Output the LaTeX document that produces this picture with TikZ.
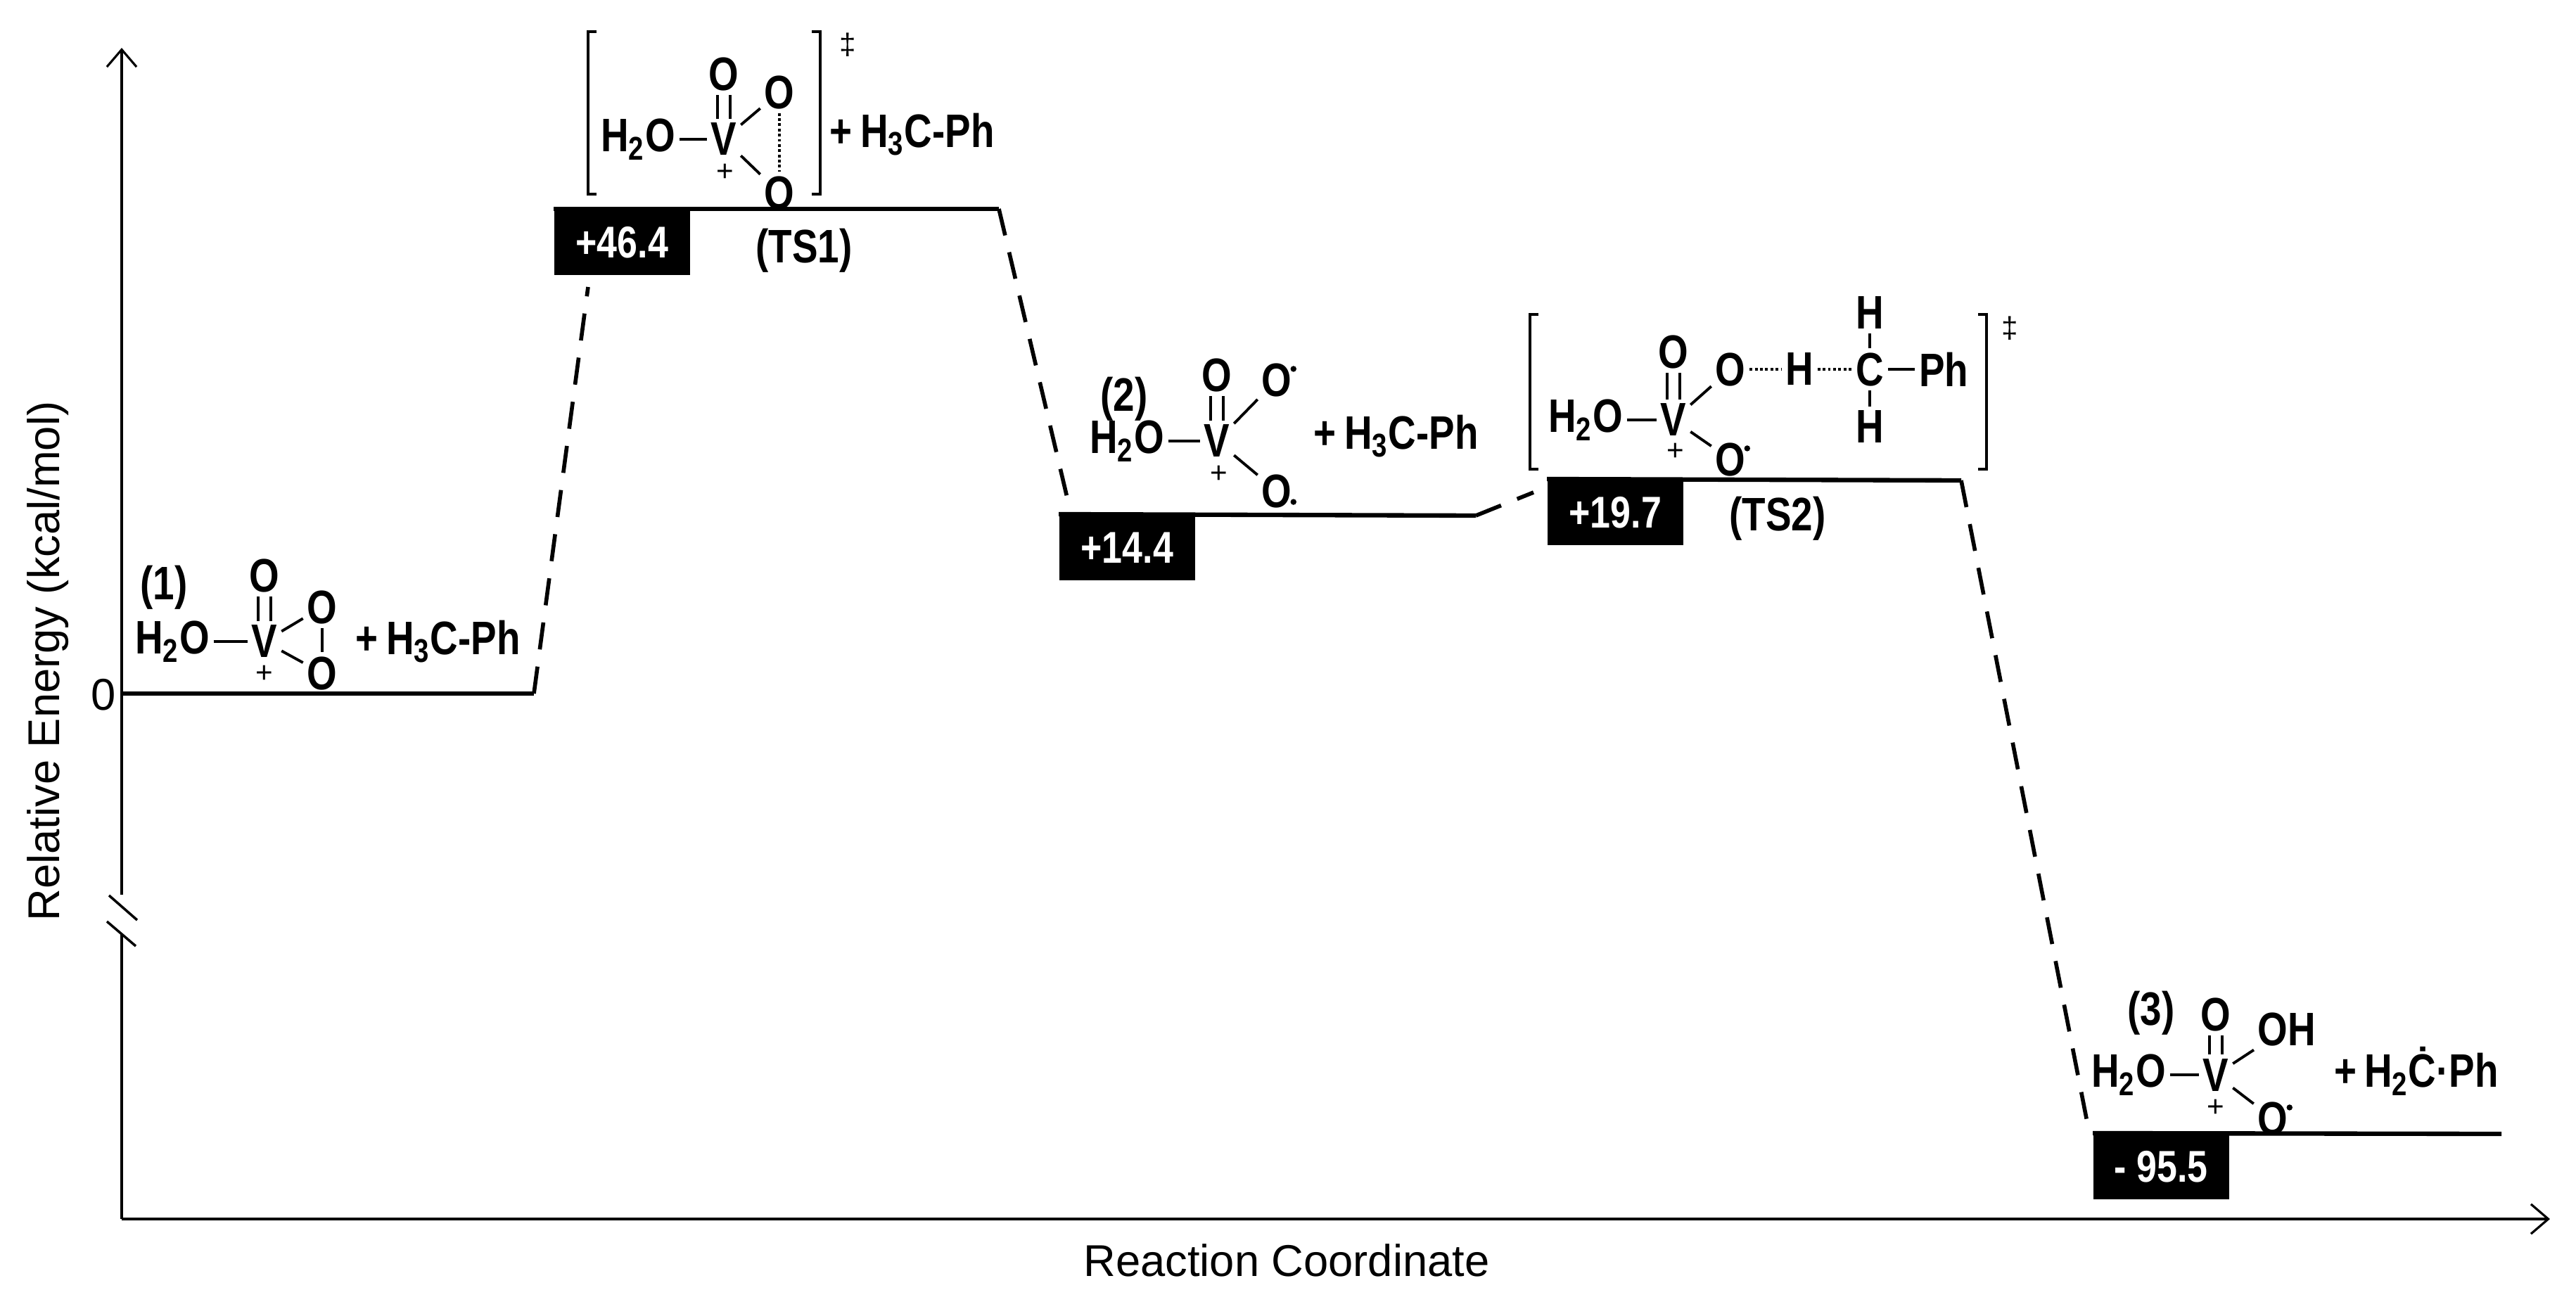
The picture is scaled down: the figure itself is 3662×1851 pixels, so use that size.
\documentclass[tikz,border=0pt]{standalone}
\usepackage{fontspec}
\setmainfont{Liberation Sans}
\newfontfamily\narrowf{Liberation Sans}[FakeStretch=0.82]
\usetikzlibrary{arrows.meta}
\begin{document}
\begin{tikzpicture}[x=0.01cm,y=-0.01cm,
  chem/.style={font=\narrowf\fontsize{19}{22}\selectfont\bfseries, inner sep=1.5pt},
  chg/.style={font=\fontsize{12}{14}\selectfont, inner sep=0pt},
  lab/.style={font=\narrowf\fontsize{19}{22}\selectfont\bfseries, inner sep=0pt},
  ebox/.style={fill=black, text=white, font=\narrowf\fontsize{18}{20}\selectfont\bfseries, minimum width=1.93cm, minimum height=0.93cm, inner sep=0pt, anchor=north west},
  level/.style={line width=1.8pt},
  conn/.style={line width=1.6pt, dash pattern=on 11pt off 7pt},
  bond/.style={line width=1.1pt},
  hbond/.style={line width=1.1pt, densely dotted},
  axis/.style={line width=0.9pt},
  axlab/.style={font=\fontsize{18}{21}\selectfont},
  brk/.style={line width=1pt},
  rad/.style={fill=black, inner sep=0pt, minimum size=2.4pt, circle}]
\useasboundingbox (0,0) rectangle (3662,1851);

% axes
\coordinate (yb) at (173,1733);
\coordinate (yl) at (173,1327);
\coordinate (yu) at (173,1272);
\coordinate (yt) at (173,68);
\coordinate (xe) at (3625,1733);
\draw[axis] (yb) -- (yl);
\draw[axis,-{Straight Barb[length=7pt,width=12pt]}] (yu) -- (yt);
\draw[axis,-{Straight Barb[length=7pt,width=12pt]}] (yb) -- (xe);
\draw[brk] (155,1273) -- (195,1308);
\draw[brk] (152,1310) -- (193,1345);
\node[axlab] (zero) at (147,988) {0};
\node[axlab, rotate=90] (ylab) at (68,940) {Relative Energy (kcal/mol)};
\node[axlab] (xlab) at (1829,1792) {Reaction Coordinate};

% levels and boxes
\coordinate (l0a) at (175,986);
\coordinate (l0b) at (759,986);
\draw[level] (l0a) -- (l0b);

\node[ebox] (b1) at (787,297) {+46.4};
\coordinate (l1b) at (1420,297);
\draw[level] (b1.north west) -- (l1b);
\node[lab] (ts1) at (1143,356) {(TS1)};

\node[ebox] (b2) at (1505,731) {+14.4};
\coordinate (l2b) at (2098,733);
\draw[level] (b2.north west) -- (l2b);

\node[ebox] (b3) at (2199,681) {+19.7};
\coordinate (l3b) at (2788,683);
\draw[level] (b3.north west) -- (l3b);
\node[lab] (ts2) at (2527,737) {(TS2)};

\node[ebox] (b4) at (2975,1611) {- 95.5};
\coordinate (l4b) at (3556,1612);
\draw[level] (b4.north west) -- (l4b);

% connectors
\coordinate (c1) at (836,408);
\coordinate (c2) at (1520,720);
\coordinate (c3) at (2180,700);
\coordinate (c4) at (2968,1600);
\draw[conn] (l0b) -- (c1);
\draw[conn] (l1b) -- (c2);
\draw[conn] (l2b) -- (c3);
\draw[conn] (l3b) -- (c4);

% structure (1)
\node[lab] (n1) at (233,835) {(1)};
\node[chem] (a1) at (245,912) {H\textsubscript{2}O};
\node[chem] (v1) at (376,912) {V};
\node[chem] (o1t) at (376,818) {O};
\node[chem] (o1a) at (458,863) {O};
\node[chem] (o1b) at (458,957) {O};
\node[chg] (p1) at (376,958) {+};
\node[chem, anchor=west] (r1) at (500,912) {+\,H\textsubscript{3}C-Ph};
\draw[bond] (a1) -- (v1);
\draw[bond] ([xshift=-2.5pt]v1.north) -- ([xshift=-2.5pt]o1t.south);
\draw[bond] ([xshift=2.5pt]v1.north) -- ([xshift=2.5pt]o1t.south);
\draw[bond] (v1) -- (o1a);
\draw[bond] (v1) -- (o1b);
\draw[bond] (o1a) -- (o1b);

% structure TS1
\node[chem] (a2) at (907,198) {H\textsubscript{2}O};
\node[chem] (v2) at (1029,198) {V};
\node[chem] (o2t) at (1029,105) {O};
\node[chem] (o2a) at (1108,131) {O};
\node[chem] (o2b) at (1108,274) {O};
\node[chg] (p2) at (1031,245) {+};
\draw[bond] (a2) -- (v2);
\draw[bond] ([xshift=-2.5pt]v2.north) -- ([xshift=-2.5pt]o2t.south);
\draw[bond] ([xshift=2.5pt]v2.north) -- ([xshift=2.5pt]o2t.south);
\draw[bond] (v2) -- (o2a);
\draw[bond] (v2) -- (o2b);
\draw[hbond] (o2a) -- (o2b);
\draw[bond] (848,45) -- (836,45) -- (836,276) -- (848,276);
\draw[bond] (1154,45) -- (1166,45) -- (1166,276) -- (1154,276);
\node[chg] (dg1) at (1205,64) {‡};
\node[chem, anchor=west] (r2) at (1174,191) {+\,H\textsubscript{3}C-Ph};

% structure (2)
\node[lab] (n2) at (1598,567) {(2)};
\node[chem] (a3) at (1602,627) {H\textsubscript{2}O};
\node[chem] (v3) at (1730,627) {V};
\node[chem] (o3t) at (1730,533) {O};
\node[chem] (o3a) at (1815,540) {O};
\node[chem] (o3b) at (1815,698) {O};
\node[rad] at ([xshift=-1pt,yshift=-4pt]o3a.north east) {};
\node[rad] at ([xshift=-1pt,yshift=4pt]o3b.south east) {};
\node[chg] (p3) at (1733,674) {+};
\draw[bond] (a3) -- (v3);
\draw[bond] ([xshift=-2.5pt]v3.north) -- ([xshift=-2.5pt]o3t.south);
\draw[bond] ([xshift=2.5pt]v3.north) -- ([xshift=2.5pt]o3t.south);
\draw[bond] (v3) -- (o3a);
\draw[bond] (v3) -- (o3b);
\node[chem, anchor=west] (r3) at (1862,620) {+\,H\textsubscript{3}C-Ph};

% structure TS2
\node[chem] (a4) at (2254,597) {H\textsubscript{2}O};
\node[chem] (v4) at (2379,597) {V};
\node[chem] (o4t) at (2379,500) {O};
\node[chem] (o4a) at (2460,525) {O};
\node[chem] (o4b) at (2460,653) {O};
\node[rad] at ([xshift=-1pt,yshift=-4pt]o4b.north east) {};
\node[chem] (h4) at (2558,525) {H};
\node[chem] (c4c) at (2658,525) {C};
\node[chem] (ph4) at (2763,525) {Ph};
\node[chem] (h4t) at (2658,445) {H};
\node[chem] (h4b) at (2658,607) {H};
\node[chg] (p4) at (2382,642) {+};
\draw[bond] (a4) -- (v4);
\draw[bond] ([xshift=-2.5pt]v4.north) -- ([xshift=-2.5pt]o4t.south);
\draw[bond] ([xshift=2.5pt]v4.north) -- ([xshift=2.5pt]o4t.south);
\draw[bond] (v4) -- (o4a);
\draw[bond] (v4) -- (o4b);
\draw[hbond] (o4a) -- (h4);
\draw[hbond] (h4) -- (c4c);
\draw[bond] (c4c) -- (ph4);
\draw[bond] (c4c) -- (h4t);
\draw[bond] (c4c) -- (h4b);
\draw[bond] (2187,447) -- (2175,447) -- (2175,667) -- (2187,667);
\draw[bond] (2812,447) -- (2824,447) -- (2824,667) -- (2812,667);
\node[chg] (dg2) at (2857,467) {‡};

% structure (3)
\node[lab] (n3) at (3058,1440) {(3)};
\node[chem] (a5) at (3026,1528) {H\textsubscript{2}O};
\node[chem] (v5) at (3150,1528) {V};
\node[chem] (o5t) at (3150,1442) {O};
\node[chem] (o5a) at (3251,1463) {OH};
\node[chem] (o5b) at (3231,1590) {O};
\node[rad] at ([xshift=-1pt,yshift=-4pt]o5b.north east) {};
\node[chg] (p5) at (3150,1575) {+};
\draw[bond] (a5) -- (v5);
\draw[bond] ([xshift=-2.5pt]v5.north) -- ([xshift=-2.5pt]o5t.south);
\draw[bond] ([xshift=2.5pt]v5.north) -- ([xshift=2.5pt]o5t.south);
\draw[bond] (v5) -- (o5a.south west);
\draw[bond] (v5) -- (o5b);
\node[chem, anchor=west] (r5) at (3312,1523) {+\,H\textsubscript{2}\.{C}·Ph};
\end{tikzpicture}
\end{document}
